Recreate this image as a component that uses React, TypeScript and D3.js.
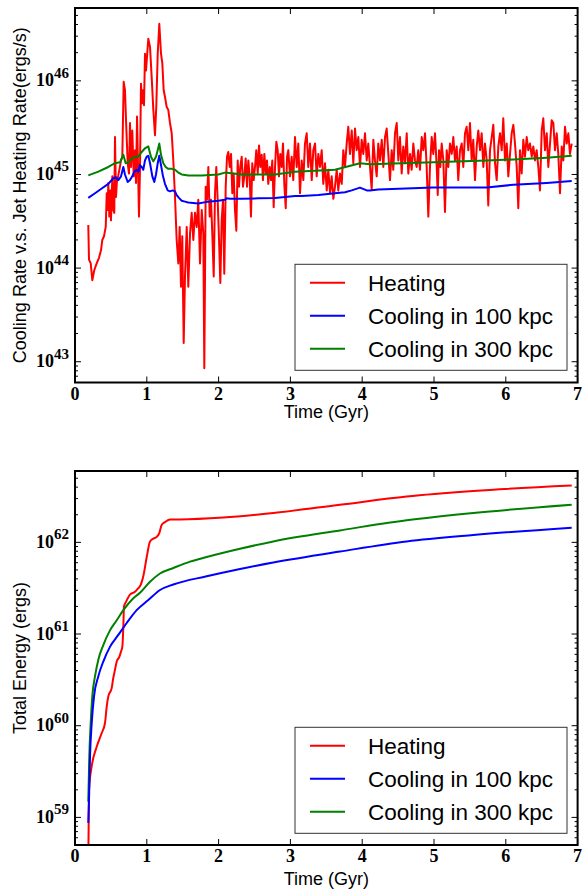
import React from 'react';
import * as d3 from 'd3';

// ---------- DATA (time in Gyr, values stored as log10) ----------
// Top panel: Heating rate (log10 erg/s)
const heatT = [0.185,0.195,0.219,0.241,0.269,0.302,0.334,0.362,0.380,0.404,0.428,0.442,0.455,0.464,0.478,0.492,0.501,0.520,0.533,0.547,0.557,0.571,0.585,0.603,0.623,0.641,0.659,0.678,0.696,0.714,0.734,0.752,0.766,0.780,0.798,0.818,0.836,0.850,0.864,0.877,0.891,0.905,0.919,0.933,0.947,0.961,0.975,0.989,1.003,1.021,1.045,1.068,1.091,1.114,1.132,1.152,1.174,1.198,1.216,1.235,1.253,1.277,1.299,1.323,1.347,1.369,1.393,1.416,1.439,1.458,1.476,1.494,1.514,1.532,1.556,1.578,1.602,1.625,1.648,1.671,1.695,1.717,1.741,1.765,1.787,1.801,1.820,1.838,1.857,1.876,1.894,1.912,1.932,1.950,1.968,1.987,2.006,2.024,2.043,2.061,2.079,2.099,2.117,2.135,2.155,2.173,2.191,2.210,2.228,2.247,2.266,2.284,2.302,2.322,2.340,2.358,2.377,2.396,2.414,2.433,2.451,2.469,2.489,2.507,2.525,2.545,2.563,2.581,2.600,2.618,2.637,2.656,2.674,2.692,2.712,2.730,2.748,2.767,2.786,2.804,2.823,2.841,2.859,2.879,2.897,2.915,2.935,2.953,2.971,2.994,3.018,3.040,3.064,3.088,3.110,3.134,3.157,3.180,3.203,3.227,3.249,3.273,3.297,3.319,3.343,3.366,3.389,3.412,3.436,3.458,3.482,3.506,3.528,3.552,3.575,3.598,3.621,3.645,3.667,3.691,3.715,3.737,3.760,3.784,3.806,3.830,3.854,3.876,3.900,3.923,3.946,3.969,3.993,4.015,4.039,4.063,4.085,4.109,4.132,4.155,4.178,4.202,4.224,4.248,4.272,4.294,4.318,4.341,4.364,4.387,4.411,4.433,4.457,4.481,4.503,4.526,4.550,4.572,4.596,4.620,4.642,4.666,4.689,4.712,4.735,4.759,4.781,4.805,4.829,4.851,4.875,4.898,4.921,4.944,4.968,4.990,5.014,5.038,5.052,5.070,5.088,5.107,5.130,5.153,5.177,5.199,5.223,5.247,5.269,5.292,5.316,5.338,5.362,5.386,5.408,5.432,5.455,5.478,5.501,5.525,5.547,5.571,5.595,5.617,5.641,5.664,5.687,5.710,5.734,5.756,5.780,5.804,5.826,5.850,5.873,5.896,5.919,5.943,5.965,5.989,6.013,6.035,6.059,6.082,6.105,6.128,6.152,6.174,6.198,6.221,6.244,6.267,6.291,6.313,6.337,6.361,6.383,6.407,6.430,6.453,6.476,6.500,6.522,6.546,6.570,6.592,6.616,6.639,6.662,6.685,6.709,6.731,6.755,6.779,6.801,6.825,6.848,6.871,6.894,6.918];
const heatLog = [44.46,44.09,44.05,43.87,43.98,44.05,44.11,44.19,44.30,44.34,44.44,44.80,44.62,44.91,44.55,44.83,44.51,44.98,44.62,44.59,45.40,44.76,44.94,44.99,45.07,45.15,45.19,45.99,45.90,45.51,45.12,45.01,45.55,45.08,45.47,44.98,45.26,44.91,45.62,45.12,44.55,45.05,45.97,45.76,45.90,45.74,46.29,46.11,46.26,46.45,46.36,46.04,45.69,45.42,45.72,46.29,46.61,46.29,46.19,45.90,45.83,45.72,45.69,45.55,45.44,45.15,44.76,44.30,44.05,44.44,43.80,44.34,43.20,43.91,44.44,43.80,44.37,44.59,44.30,44.59,44.44,44.73,44.05,44.62,44.37,42.93,44.87,44.73,45.08,44.55,44.73,44.37,43.91,44.80,45.08,44.73,44.30,43.84,44.51,44.73,43.94,44.87,45.19,45.24,45.08,45.22,44.80,45.01,44.62,44.40,45.15,44.87,45.08,45.19,44.87,44.98,45.17,44.87,45.15,44.98,44.55,45.12,44.94,45.08,45.26,45.01,45.31,45.08,45.21,44.94,45.22,45.01,45.15,44.90,45.08,44.94,45.15,44.65,45.08,45.35,45.26,44.98,45.22,45.08,45.33,44.90,44.64,45.19,45.26,44.98,45.19,44.94,45.40,45.08,45.33,44.80,45.15,44.94,45.33,45.44,45.08,45.33,44.94,45.26,45.33,44.98,45.22,45.08,45.26,44.90,45.12,44.83,45.05,44.80,44.98,44.74,44.87,45.05,44.83,45.01,44.90,45.26,45.08,45.33,45.51,45.22,45.47,45.12,45.49,45.26,45.40,45.08,45.37,45.22,45.44,45.15,45.33,45.08,44.84,45.37,45.15,44.98,45.33,45.15,45.37,45.08,45.40,45.49,45.22,44.94,45.26,45.05,45.44,45.55,45.15,45.40,45.01,45.30,45.12,45.44,45.01,45.22,45.05,45.33,45.15,45.08,45.26,45.05,45.40,45.26,45.44,45.08,44.55,45.08,45.40,45.22,45.44,45.08,44.78,45.26,45.08,45.33,45.15,44.60,45.26,45.08,45.33,45.22,45.40,45.15,45.30,44.94,45.26,45.33,45.08,45.44,45.51,45.26,45.55,45.15,45.37,44.94,45.30,45.47,45.26,45.44,45.08,45.33,45.15,44.67,45.26,45.40,45.53,45.12,44.94,45.30,45.44,45.26,45.60,45.15,45.33,44.98,45.22,45.44,45.53,45.33,45.08,44.64,45.26,45.01,45.37,45.19,45.40,45.26,45.33,45.19,45.30,45.15,45.26,45.08,44.83,45.47,45.60,45.26,45.44,45.08,45.33,45.58,45.55,45.26,45.44,45.22,44.80,45.30,45.15,45.51,45.33,45.44,45.22,45.33];

// Top panel: Cooling in 100 kpc (log10 erg/s)
const cool100T = [0.185,0.279,0.372,0.464,0.533,0.567,0.603,0.641,0.673,0.696,0.734,0.766,0.798,0.826,0.859,0.882,0.905,0.929,0.951,0.975,0.999,1.021,1.045,1.077,1.104,1.128,1.152,1.174,1.198,1.226,1.253,1.291,1.323,1.361,1.393,1.416,1.448,1.486,1.532,1.578,1.717,1.857,1.996,2.089,2.113,2.159,2.322,2.553,2.786,3.064,3.157,3.389,3.621,3.760,3.854,3.969,4.063,4.109,4.224,4.990,5.734,6.105,6.570,6.918];
const cool100Log = [44.75,44.80,44.85,44.90,44.96,44.97,44.94,44.98,45.08,45.00,44.92,44.94,44.98,45.03,45.05,45.03,45.10,45.08,45.05,45.15,45.19,45.20,45.12,44.98,44.92,45.00,45.12,45.20,45.10,44.98,44.90,44.83,44.82,44.83,44.82,44.78,44.75,44.72,44.71,44.70,44.69,44.71,44.72,44.73,44.745,44.74,44.74,44.745,44.75,44.77,44.77,44.78,44.80,44.81,44.83,44.86,44.83,44.83,44.84,44.86,44.86,44.89,44.91,44.93];

// Top panel: Cooling in 300 kpc (log10 erg/s)
const cool300T = [0.185,0.325,0.464,0.557,0.627,0.673,0.706,0.742,0.790,0.836,0.882,0.929,0.975,1.021,1.058,1.091,1.128,1.152,1.174,1.198,1.230,1.263,1.299,1.347,1.393,1.439,1.486,1.578,1.765,1.996,2.089,2.322,2.786,3.064,3.621,3.969,4.109,4.990,5.734,6.105,6.570,6.918];
const cool300Log = [44.99,45.03,45.08,45.12,45.13,45.21,45.12,45.13,45.17,45.19,45.19,45.24,45.28,45.30,45.19,45.14,45.19,45.26,45.33,45.21,45.12,45.08,45.06,45.06,45.05,45.02,45.00,44.99,44.99,45.00,45.02,45.00,45.00,45.03,45.05,45.12,45.11,45.13,45.15,45.16,45.18,45.20];

// Bottom panel: cumulative energies (log10 erg)
const eHeatT = [0.185,0.195,0.233,0.302,0.372,0.418,0.442,0.464,0.511,0.533,0.557,0.581,0.617,0.641,0.659,0.673,0.682,0.710,0.766,0.836,0.882,0.905,0.951,0.999,1.045,1.091,1.138,1.174,1.207,1.253,1.323,1.462,2.066,2.762,3.691,4.619,5.547,6.918];
const eHeatLog = [58.5,59.30,59.56,59.77,59.92,60.03,60.21,60.32,60.41,60.52,60.61,60.70,60.75,60.81,60.86,61.08,61.30,61.35,61.43,61.46,61.50,61.52,61.63,61.84,62.01,62.04,62.06,62.10,62.19,62.22,62.25,62.25,62.27,62.32,62.41,62.50,62.56,62.62];
const eCool100T = [0.185,0.195,0.209,0.233,0.265,0.325,0.394,0.487,0.603,0.720,0.859,1.021,1.184,1.369,1.834,2.298,2.762,3.691,4.619,5.547,6.918];
const eCool100Log = [58.94,59.19,59.66,60.03,60.32,60.54,60.70,60.86,60.99,61.12,61.26,61.37,61.48,61.54,61.63,61.71,61.78,61.90,62.01,62.08,62.16];
const eCool300T = [0.185,0.199,0.219,0.241,0.279,0.325,0.394,0.487,0.581,0.673,0.812,0.905,1.045,1.184,1.369,1.602,1.834,2.298,2.762,3.691,4.619,5.547,6.918];
const eCool300Log = [59.17,59.66,60.03,60.32,60.54,60.72,60.88,61.04,61.15,61.26,61.39,61.45,61.57,61.66,61.72,61.79,61.84,61.93,62.01,62.13,62.24,62.32,62.41];

const xTicks = [0, 1, 2, 3, 4, 5, 6, 7];
const topYExps = [43, 44, 45, 46];
const bottomYExps = [59, 60, 61, 62];
const legendLabels = ['Heating', 'Cooling in 100 kpc', 'Cooling in 300 kpc'];
const seriesColors = ['#ff0000', '#0000ff', '#008000'];

const SERIF = "'Liberation Serif', 'DejaVu Serif', serif";
const SANS = "'Liberation Sans', Arial, sans-serif";

type Series = { t: number[]; v: number[]; color: string };

function Panel(props: {
  id: string;
  top: number;
  bottom: number;
  yMin: number;
  yMax: number;
  exps: number[];
  series: Series[];
  ylabel: string;
  xlabelY: number;
  legendY: number;
  smooth: boolean;
}) {
  const { id, top, bottom, yMin, yMax, exps, series, ylabel, xlabelY, legendY, smooth } = props;
  const left = 75;
  const right = 577.6;
  const x = d3.scaleLinear().domain([0, 7]).range([left, right]);
  const y = d3.scaleLog().domain([yMin, yMax]).range([bottom, top]);
  const line = d3
    .line<[number, number]>()
    .x((d) => x(d[0]))
    .y((d) => y(Math.pow(10, d[1])))
    .curve(smooth ? d3.curveMonotoneX : d3.curveLinear);

  const minor: number[] = [];
  const lo = Math.floor(Math.log10(yMin));
  const hi = Math.ceil(Math.log10(yMax));
  for (let e = lo; e <= hi; e++) {
    for (let m = 2; m <= 9; m++) {
      const val = m * Math.pow(10, e);
      if (val > yMin && val < yMax) minor.push(val);
    }
  }

  const cy = (top + bottom) / 2;
  const rowGap = 33;
  const legendX = 295;
  const legendW = 272;
  const legendH = 106;

  return (
    <g>
      <defs>
        <clipPath id={id}>
          <rect x={left} y={top} width={right - left} height={bottom - top} />
        </clipPath>
      </defs>
      <g clipPath={`url(#${id})`}>
        {series.map((s, i) => (
          <path
            key={i}
            d={line(s.t.map((t, j) => [t, s.v[j]] as [number, number])) || ''}
            fill="none"
            stroke={s.color}
            strokeWidth={2}
            strokeLinejoin="round"
          />
        ))}
      </g>
      {xTicks.map((t) => (
        <g key={'xt' + t}>
          <line x1={x(t)} x2={x(t)} y1={bottom} y2={bottom - 6} stroke="#000" strokeWidth={1} />
          <line x1={x(t)} x2={x(t)} y1={top} y2={top + 6} stroke="#000" strokeWidth={1} />
          <text x={x(t)} y={bottom + 17} textAnchor="middle" fontFamily={SERIF} fontSize={18} fontWeight="bold">
            {t}
          </text>
        </g>
      ))}
      {minor.map((v, i) => (
        <g key={'mn' + i}>
          <line x1={left} x2={left + 3} y1={y(v)} y2={y(v)} stroke="#000" strokeWidth={1} />
          <line x1={right} x2={right - 3} y1={y(v)} y2={y(v)} stroke="#000" strokeWidth={1} />
        </g>
      ))}
      {exps.map((e) => {
        const yy = y(Math.pow(10, e));
        return (
          <g key={'yt' + e}>
            <line x1={left} x2={left + 6} y1={yy} y2={yy} stroke="#000" strokeWidth={1} />
            <line x1={right} x2={right - 6} y1={yy} y2={yy} stroke="#000" strokeWidth={1} />
            <text x={69} y={yy + 5.5} textAnchor="end" fontFamily={SERIF} fontSize={18} fontWeight="bold">
              10
              <tspan dy={-8.7} fontSize={15}>
                {e}
              </tspan>
            </text>
          </g>
        );
      })}
      <rect x={left} y={top} width={right - left} height={bottom - top} fill="none" stroke="#000" strokeWidth={2} />
      <text x={(left + right) / 2} y={xlabelY} textAnchor="middle" fontFamily={SANS} fontSize={18}>
        Time (Gyr)
      </text>
      <text
        transform={`translate(26,${cy}) rotate(-90)`}
        textAnchor="middle"
        fontFamily={SANS}
        fontSize={18}
      >
        {ylabel}
      </text>
      <rect x={legendX} y={legendY} width={legendW} height={legendH} fill="#fff" stroke="#333" strokeWidth={1} />
      {legendLabels.map((lab, i) => {
        const ry = legendY + 18.5 + i * rowGap;
        return (
          <g key={lab}>
            <line x1={310} x2={345} y1={ry} y2={ry} stroke={seriesColors[i]} strokeWidth={2} />
            <text x={368} y={ry + 7.8} fontFamily={SANS} fontSize={22.5}>
              {lab}
            </text>
          </g>
        );
      })}
    </g>
  );
}

export default function App() {
  const topSeries: Series[] = [
    { t: heatT, v: heatLog, color: seriesColors[0] },
    { t: cool100T, v: cool100Log, color: seriesColors[1] },
    { t: cool300T, v: cool300Log, color: seriesColors[2] },
  ];
  const bottomSeries: Series[] = [
    { t: eHeatT, v: eHeatLog, color: seriesColors[0] },
    { t: eCool300T, v: eCool300Log, color: seriesColors[2] },
    { t: eCool100T, v: eCool100Log, color: seriesColors[1] },
  ];
  return (
    <svg
      width={582}
      height={890}
      viewBox="0 0 582 890"
      style={{ position: 'absolute', left: 0, top: 0, background: '#fff' }}
    >
      <rect x={0} y={0} width={582} height={890} fill="#fff" />
      <Panel
        id="clipTop"
        top={8}
        bottom={382.5}
        yMin={6e42}
        yMax={6e46}
        exps={topYExps}
        series={topSeries}
        ylabel="Cooling Rate v.s. Jet Heating Rate(ergs/s)"
        xlabelY={418}
        legendY={264.3}
        smooth={false}
      />
      <Panel
        id="clipBottom"
        top={471}
        bottom={845}
        yMin={5e58}
        yMax={6e62}
        exps={bottomYExps}
        series={bottomSeries}
        ylabel="Total Energy (ergs)"
        xlabelY={884.5}
        legendY={727.3}
        smooth={true}
      />
    </svg>
  );
}
